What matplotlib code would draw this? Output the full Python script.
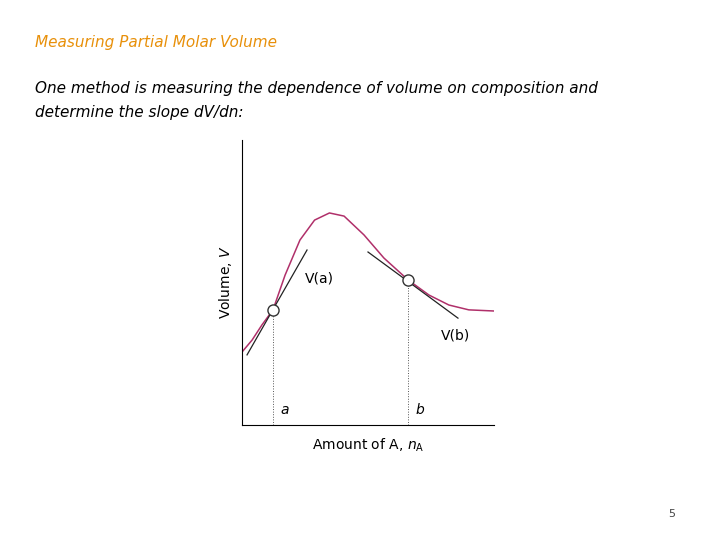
import matplotlib.pyplot as plt

# curve (arbitrary units)
curve_x = [0, 0.4, 0.79, 1.23, 1.71, 2.30, 2.88, 3.47, 4.05, 4.84, 5.63, 6.59, 7.42, 8.21, 9.0, 10.0]
curve_y = [2.56, 2.98, 3.51, 4.04, 5.26, 6.49, 7.19, 7.44, 7.33, 6.67, 5.86, 5.09, 4.56, 4.21, 4.04, 4.0]
point_x = [1.23, 6.59]
point_y = [4.04, 5.09]
point_labels = ['a', 'b']
tan_a_x = [0.2, 2.58]
tan_a_y = [2.46, 6.14]
tan_b_x = [5.0, 8.57]
tan_b_y = [6.07, 3.75]

fig = plt.figure(figsize=(7.2, 5.4), dpi=100)
fig.text(35 / 720, 1 - 43 / 540, 'Measuring Partial Molar Volume', color='#e8900a',
         fontsize=11, style='italic', va='center')
fig.text(35 / 720, 1 - 88 / 540, 'One method is measuring the dependence of volume on composition and',
         fontsize=11, style='italic', va='center')
fig.text(35 / 720, 1 - 112 / 540, 'determine the slope dV/dn:',
         fontsize=11, style='italic', va='center')
fig.text(672 / 720, 1 - 514 / 540, '5', fontsize=8, color='#444444', ha='center', va='center')

ax = fig.add_axes([242 / 720, 1 - 425 / 540, 252 / 720, 285 / 540])
ax.plot(curve_x, curve_y, color='#b0306a', lw=1.1)
ax.plot(tan_a_x, tan_a_y, color='#222222', lw=0.9)
ax.plot(tan_b_x, tan_b_y, color='#222222', lw=0.9)
for px, py in zip(point_x, point_y):
    ax.plot([px, px], [0, py], color='#555555', lw=0.7, ls=':')
ax.plot(point_x, point_y, 'o', mfc='white', mec='#333333', ms=8, mew=1)
for px, lab in zip(point_x, point_labels):
    ax.text(px + 0.45, 0.4, lab, style='italic', fontsize=10, ha='center')
ax.text(2.5, 5.0, 'V(a)', fontsize=10)
ax.text(7.9, 3.0, 'V(b)', fontsize=10)
ax.set_xlim(0, 10)
ax.set_ylim(0, 10)
ax.set_xticks([])
ax.set_yticks([])
for s in ['top', 'right']:
    ax.spines[s].set_visible(False)
ax.set_ylabel('Volume, $V$', fontsize=10, labelpad=6)
ax.set_xlabel('Amount of A, $n_\\mathrm{A}$', fontsize=10, labelpad=8)

fig.savefig('out.png', dpi=100)
